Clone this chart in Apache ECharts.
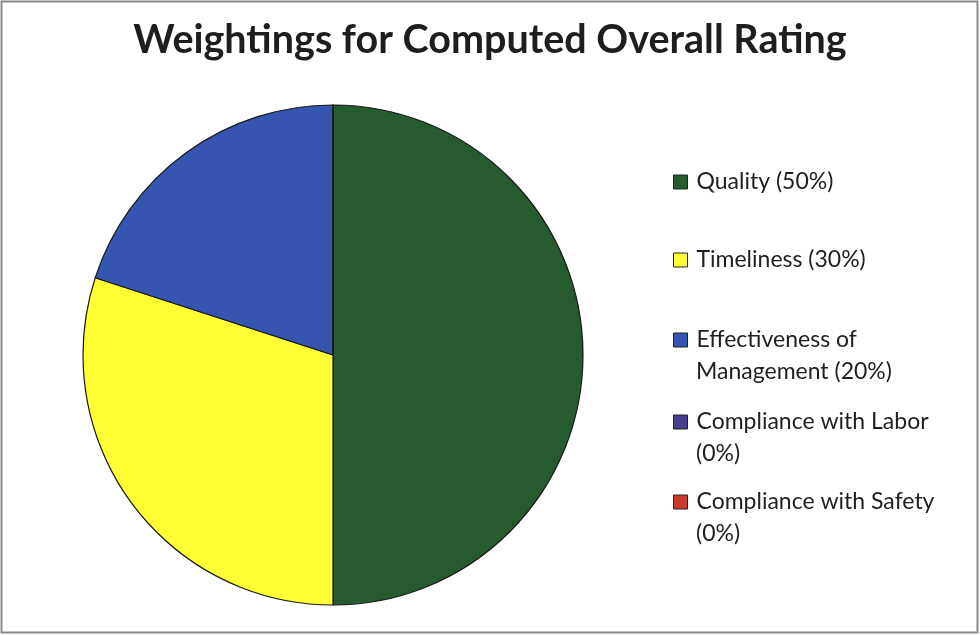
<!DOCTYPE html>
<html>
<head>
<meta charset="utf-8">
<script src="https://cdn.jsdelivr.net/npm/echarts@6/dist/echarts.min.js"></script>
<style>
  html, body { margin: 0; padding: 0; background: #fff; }
  #chart { width: 980px; height: 635px; }
</style>
</head>
<body>
<div id="chart"></div>
<script>
// Rating components and their weights (percent)
const categories = [
  'Quality',
  'Timeliness',
  'Effectiveness of Management',
  'Compliance with Labor',
  'Compliance with Safety'
];
const weights = [50, 30, 20, 0, 0];
// Legend wording: first line beside the swatch, optional wrapped second line
const legendFirstLines = [
  'Quality (50%)',
  'Timeliness (30%)',
  'Effectiveness of',
  'Compliance with Labor',
  'Compliance with Safety'
];
const legendSecondLines = ['', '', 'Management (20%)', '(0%)', '(0%)'];
const sliceColors = ['#265a2f', '#ffff33', '#3555b0', '#453f8e', '#c83a2a'];

const chart = echarts.init(document.getElementById('chart'), null, { renderer: 'canvas' });

const FONT = 'Lato';
const LEGEND_SIZE = 23;
const legendCenters = [182, 260, 340, 422, 502];
const lineStep = 32;
const textX = 696;

const legends = categories.map((name, i) => ({
  orient: 'vertical',
  left: 673,
  top: legendCenters[i] - 14,
  padding: 0,
  data: [name],
  icon: 'rect',
  itemWidth: 14,
  itemHeight: 14,
  itemGap: 0,
  selectedMode: false,
  formatter: () => legendFirstLines[i],
  textStyle: {
    fontFamily: FONT,
    fontSize: LEGEND_SIZE,
    color: '#1f1f1f',
    lineHeight: 28,
    padding: [0, 0, 0, 4]
  },
  itemStyle: { borderColor: '#222', borderWidth: 1 }
}));

const wrapTexts = legendSecondLines
  .map((t, i) => ({ t, i }))
  .filter(o => o.t)
  .map(o => ({
    type: 'text',
    left: textX,
    top: legendCenters[o.i] + lineStep - 14,
    silent: true,
    style: {
      text: o.t,
      fontFamily: FONT,
      fontSize: LEGEND_SIZE,
      lineHeight: 28,
      fill: '#1f1f1f'
    }
  }));

chart.setOption({
  backgroundColor: '#ffffff',
  animation: false,
  title: {
    text: 'Weightings for Computed Overall Rating',
    left: 'center',
    top: 15,
    textStyle: {
      fontFamily: FONT,
      fontWeight: 'bold',
      fontSize: 39.5,
      color: '#1e1e1e'
    }
  },
  legend: legends,
  graphic: [{
    type: 'rect',
    shape: { x: 1.5, y: 1.5, width: 976, height: 631 },
    style: { fill: 'none', stroke: '#8a8a8a', lineWidth: 2 },
    silent: true
  }].concat(wrapTexts),
  series: [{
    type: 'pie',
    center: [333, 355],
    radius: 250,
    startAngle: 90,
    clockwise: true,
    label: { show: false },
    labelLine: { show: false },
    emphasis: { disabled: true },
    itemStyle: { borderColor: '#1a1a1a', borderWidth: 1.2 },
    data: categories.map((name, i) => ({
      name: name,
      value: weights[i],
      itemStyle: { color: sliceColors[i] }
    }))
  }]
});
</script>
</body>
</html>
